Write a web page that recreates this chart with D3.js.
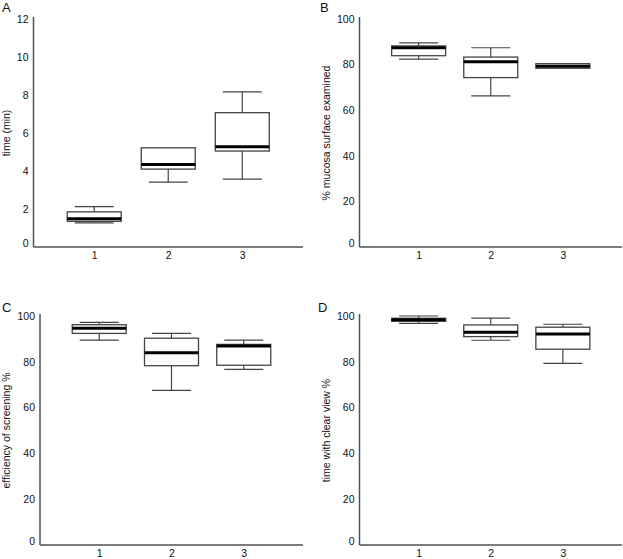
<!DOCTYPE html>
<html>
<head>
<meta charset="utf-8">
<script src="https://cdn.jsdelivr.net/npm/d3@7"></script>
<style>
  html, body { margin: 0; padding: 0; background: #fff; }
  svg { display: block; font-family: "Liberation Sans", Arial, sans-serif; }
</style>
</head>
<body>
<svg id="chart" width="623" height="559"></svg>
<script>
// ---- data (whisker low, Q1, median, Q3, whisker high) ----
const categories = ["1", "2", "3"];

const panelLetters = ["A", "B", "C", "D"];
const yTitles = ["time (min)", "% mucosa surface examined", "efficiency of screening %", "time with clear view %"];
const yMaxes = [12, 100, 100, 100];
const yTickValues = [
  [0, 2, 4, 6, 8, 10, 12],
  [0, 20, 40, 60, 80, 100],
  [0, 20, 40, 60, 80, 100],
  [0, 20, 40, 60, 80, 100]
];

const statsA = [
  [1.27, 1.35, 1.49, 1.85, 2.13],
  [3.41, 4.10, 4.34, 5.22, 5.22],
  [3.57, 5.05, 5.27, 7.07, 8.16]
];
const statsB = [
  [82.4, 83.9, 87.4, 88.2, 89.5],
  [66.3, 74.3, 81.3, 83.3, 87.4],
  [78.4, 78.4, 79.3, 80.4, 80.4]
];
const statsC = [
  [89.5, 92.4, 94.6, 96.2, 97.2],
  [67.5, 78.3, 84.0, 90.3, 92.4],
  [76.7, 78.5, 86.9, 87.6, 89.5]
];
const statsD = [
  [96.8, 97.7, 98.4, 99.0, 100.0],
  [89.4, 91.0, 92.9, 96.1, 99.1],
  [79.3, 85.5, 92.1, 95.1, 96.4]
];
const allStats = [statsA, statsB, statsC, statsD];

// ---- layout ----
const panels = [
  { left: 33.5, right: 303, top: 19, bottom: 247, letterX: 2, letterY: 12, titleX: 6 },
  { left: 359.5, right: 622, top: 19, bottom: 247, letterX: 320, letterY: 12, titleX: 326 },
  { left: 40, right: 303, top: 316, bottom: 545, letterX: 2, letterY: 312, titleX: 6 },
  { left: 359.5, right: 622, top: 316, bottom: 545, letterX: 318, letterY: 312, titleX: 326 }
];

const svg = d3.select("#chart");
const axisColor = "#505050";
const boxColor = "#444";
const textColor = "#111";
const fontSize = 10.5;
const boxW = 54, capW = 39;

panels.forEach((p, i) => {
  const g = svg.append("g");
  const y = d3.scaleLinear().domain([0, yMaxes[i]]).range([p.bottom, p.top]);
  const x = d3.scalePoint().domain(categories).range([p.left, p.right]).padding(0.82);

  // panel letter
  g.append("text").attr("x", p.letterX).attr("y", p.letterY)
    .attr("font-size", 13).attr("fill", textColor).text(panelLetters[i]);

  // axes lines
  g.append("line").attr("x1", p.left).attr("x2", p.left)
    .attr("y1", p.top - 2).attr("y2", p.bottom)
    .attr("stroke", axisColor).attr("stroke-width", 1.5);
  g.append("line").attr("x1", p.left).attr("x2", p.right)
    .attr("y1", p.bottom).attr("y2", p.bottom)
    .attr("stroke", axisColor).attr("stroke-width", 1.5);

  // y tick labels
  const yAxis = d3.axisLeft(y).tickValues(yTickValues[i]).tickSize(0).tickPadding(5);
  const ya = g.append("g").attr("transform", `translate(${p.left},0)`).call(yAxis);
  ya.select(".domain").remove();
  ya.selectAll("text").attr("font-size", fontSize).attr("fill", textColor)
    .attr("font-family", "Liberation Sans, Arial, sans-serif")
    .attr("dy", d => d === 0 ? "-0.05em" : "0.32em");

  // x tick labels
  const xAxis = d3.axisBottom(x).tickSize(0).tickPadding(5);
  const xa = g.append("g").attr("transform", `translate(0,${p.bottom})`).call(xAxis);
  xa.select(".domain").remove();
  xa.selectAll("text").attr("font-size", fontSize).attr("fill", textColor)
    .attr("font-family", "Liberation Sans, Arial, sans-serif");

  // y title
  g.append("text")
    .attr("transform", `translate(${p.titleX},${(p.top + p.bottom) / 2}) rotate(-90)`)
    .attr("text-anchor", "middle").attr("dominant-baseline", "central")
    .attr("font-size", fontSize).attr("fill", textColor).text(yTitles[i]);

  // boxes
  const boxes = g.selectAll("g.box").data(allStats[i]).join("g").attr("class", "box")
    .attr("transform", (d, j) => `translate(${x(categories[j])},0)`);

  // whiskers
  boxes.append("line").attr("x1", 0).attr("x2", 0)
    .attr("y1", d => y(d[4])).attr("y2", d => y(d[3]))
    .attr("stroke", boxColor).attr("stroke-width", 1.2);
  boxes.append("line").attr("x1", 0).attr("x2", 0)
    .attr("y1", d => y(d[1])).attr("y2", d => y(d[0]))
    .attr("stroke", boxColor).attr("stroke-width", 1.2);
  // caps
  boxes.filter(d => d[4] > d[3]).append("line").attr("x1", -capW / 2).attr("x2", capW / 2)
    .attr("y1", d => y(d[4])).attr("y2", d => y(d[4]))
    .attr("stroke", boxColor).attr("stroke-width", 1.2);
  boxes.filter(d => d[0] < d[1]).append("line").attr("x1", -capW / 2).attr("x2", capW / 2)
    .attr("y1", d => y(d[0])).attr("y2", d => y(d[0]))
    .attr("stroke", boxColor).attr("stroke-width", 1.2);
  // box
  boxes.append("rect").attr("x", -boxW / 2).attr("width", boxW)
    .attr("y", d => y(d[3])).attr("height", d => y(d[1]) - y(d[3]))
    .attr("fill", "#fff").attr("stroke", boxColor).attr("stroke-width", 1.3);
  // median
  boxes.append("line").attr("x1", -boxW / 2).attr("x2", boxW / 2)
    .attr("y1", d => y(d[2])).attr("y2", d => y(d[2]))
    .attr("stroke", "#000").attr("stroke-width", 3);
});
</script>
</body>
</html>
